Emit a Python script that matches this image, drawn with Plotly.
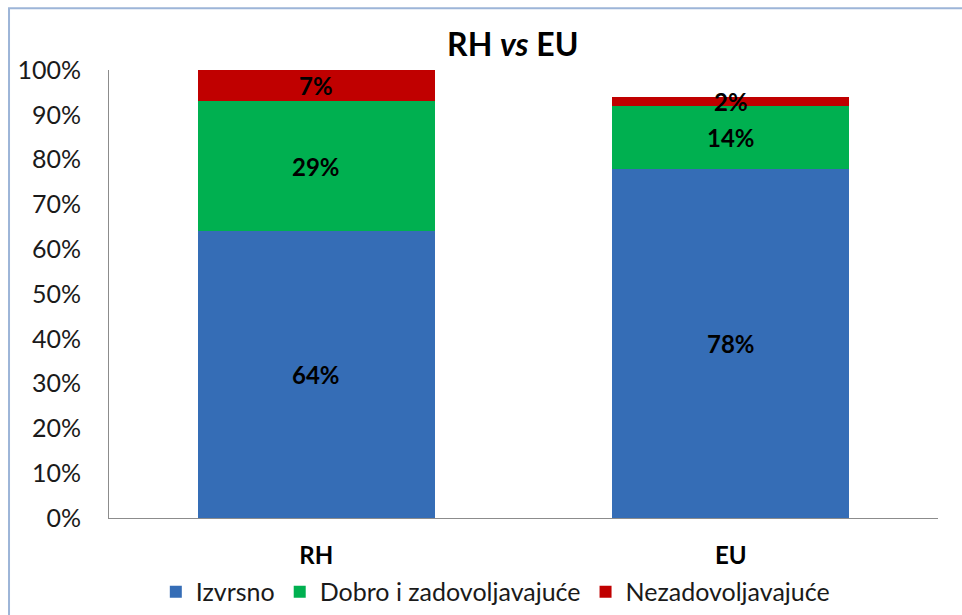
import plotly.graph_objects as go

categories = ["RH", "EU"]
series_names = ["Izvrsno", "Dobro i zadovoljavajuće", "Nezadovoljavajuće"]
izvrsno = [64, 78]
dobro = [29, 14]
nezadovoljavajuce = [7, 2]
y_ticks = [0, 10, 20, 30, 40, 50, 60, 70, 80, 90, 100]
y_tick_labels = [f"{v}%" for v in y_ticks]

series_values = [izvrsno, dobro, nezadovoljavajuce]
colors = ["#356DB6", "#00B050", "#C00000"]
FONT = "Lato, sans-serif"

fig = go.Figure()
for name, vals, col in zip(series_names, series_values, colors):
    fig.add_trace(go.Bar(
        x=categories, y=vals, name=name,
        marker=dict(color=col, line=dict(width=0)),
        width=0.572,
    ))

# data labels at segment midpoints
annotations = []
for ci, cat in enumerate(categories):
    base = 0
    for vals in series_values:
        v = vals[ci]
        annotations.append(dict(
            x=cat, y=base + v / 2, xref="x", yref="y",
            text=f"<b>{v}%</b>", showarrow=False,
            font=dict(family=FONT, size=24, color="black"),
        ))
        base += v

fig.update_layout(
    barmode="stack",
    width=962, height=615,
    paper_bgcolor="white", plot_bgcolor="white",
    margin=dict(l=109, r=24, t=70, b=97, autoexpand=False),
    title=dict(text="<b>RH <i>vs</i> EU</b>", x=0.533, xanchor="center",
               y=0.927, yanchor="middle",
               font=dict(family=FONT, size=32, color="black")),
    font=dict(family=FONT, size=25, color="#1a1a1a"),
    annotations=annotations,
    legend=dict(orientation="h", x=0.466, xanchor="center", y=-0.165, yanchor="middle",
                font=dict(size=25, color="#1a1a1a"), itemwidth=30, traceorder="normal",
                bgcolor="rgba(0,0,0,0)"),
    showlegend=True,
    shapes=[dict(type="rect", xref="paper", yref="paper",
                 x0=-0.1206, x1=1.2, y0=-0.4, y1=1.138,
                 line=dict(color="#9DB5D8", width=2), fillcolor="rgba(0,0,0,0)",
                 layer="below")],
)
fig.update_yaxes(range=[0, 100], tickvals=y_ticks, ticktext=y_tick_labels,
                 showgrid=False, showline=True, linecolor="#8c8c8c", linewidth=1,
                 ticks="", ticklabelstandoff=22, zeroline=False,
                 tickfont=dict(size=25, color="#1a1a1a"))
fig.update_xaxes(showline=True, linecolor="#8c8c8c", linewidth=1, ticks="",
                 ticklabelstandoff=16,
                 tickfont=dict(size=24, color="black"),
                 tickvals=categories, ticktext=[f"<b>{c}</b>" for c in categories])

fig.write_html("out.html", config={"displayModeBar": False},
               post_script="document.body.style.margin='0';")
